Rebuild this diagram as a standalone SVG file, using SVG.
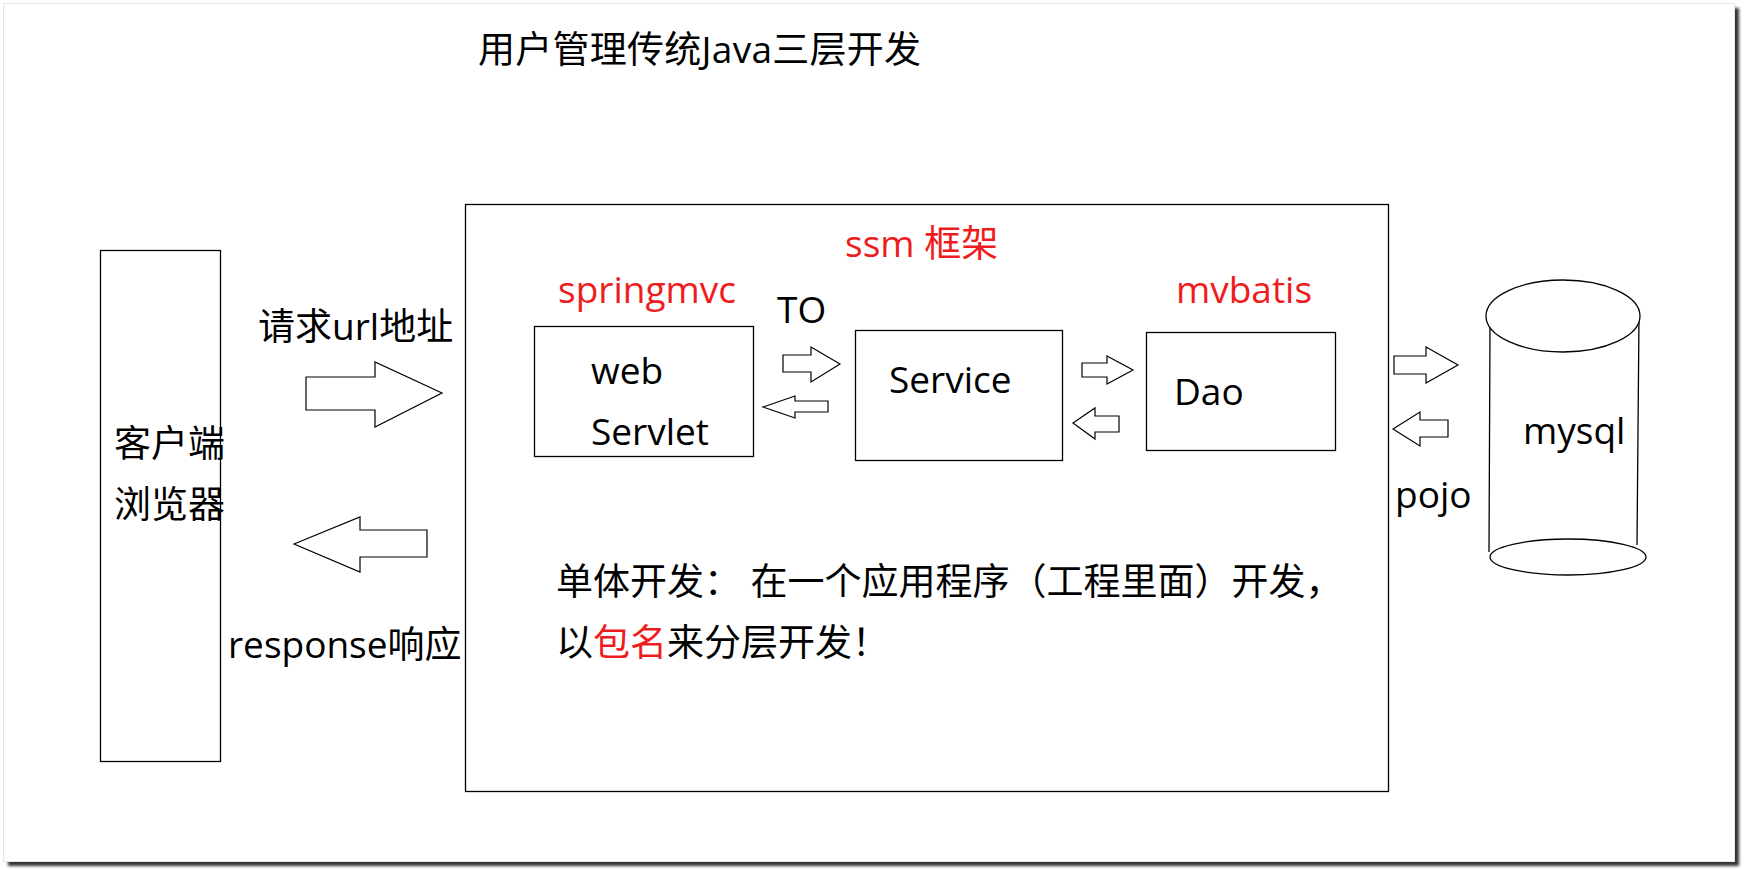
<svg xmlns="http://www.w3.org/2000/svg" width="1744" height="870" viewBox="0 0 1744 870">
<defs>
<filter id="sh" x="-5%" y="-5%" width="110%" height="110%"><feGaussianBlur stdDeviation="1.5"/></filter>
</defs>
<style>
.t{font-family:"Open Sans","Noto Sans CJK SC",sans-serif;font-size:37px;fill:#000}
.r{fill:#ee1c1c}
.box{fill:#fff;stroke:#000;stroke-width:1.3}
.ar{fill:#fff;stroke:#000;stroke-width:1.2;stroke-linejoin:miter}
</style>
<rect x="0" y="0" width="1744" height="870" fill="#fff"/>
<rect x="8" y="8" width="1731" height="858" fill="#333" filter="url(#sh)"/>
<rect x="3.5" y="3.5" width="1731" height="858" fill="#fff" stroke="#e6e6e6" stroke-width="1"/>
<text class="t" x="478" y="63" textLength="443">用户管理传统Java三层开发</text>
<g id="client">
<rect class="box" x="100.5" y="250.5" width="120" height="511"/>
<text class="t" x="114" y="457">客户端</text>
<text class="t" x="114" y="518">浏览器</text>
</g>
<g id="main">
<rect class="box" x="465.5" y="204.5" width="923" height="587" fill="none"/>
<text class="t r" x="845" y="257">ssm 框架</text>
<text class="t r" x="558" y="303">springmvc</text>
<text class="t" x="777" y="323">TO</text>
<text class="t r" x="1176" y="303">mvbatis</text>
<text class="t" x="556" y="595">单体开发： 在一个应用程序（工程里面）开发，</text>
<text class="t" x="556" y="656">以<tspan class="r">包名</tspan>来分层开发！</text>
</g>
<g id="web">
<rect class="box" x="534.5" y="326.5" width="219" height="130"/>
<text class="t" x="591" y="384">web</text>
<text class="t" x="591" y="445">Servlet</text>
</g>
<g id="service">
<rect class="box" x="855.5" y="330.5" width="207" height="130"/>
<text class="t" x="889" y="393">Service</text>
</g>
<g id="dao">
<rect class="box" x="1146.5" y="332.5" width="189" height="118"/>
<text class="t" x="1174" y="405">Dao</text>
</g>
<g id="mysql">
<path class="box" d="M1490,327 L1489,552 M1639,317 L1637,545" fill="none"/>
<ellipse class="box" cx="1563" cy="316" rx="77" ry="36"/>
<ellipse class="box" cx="1568" cy="557" rx="78" ry="18"/>
<text class="t" x="1523" y="444">mysql</text>
</g>
<g id="connectors">
<polygon class="ar" points="306,377 375,377 375,362 442,393 375,427 375,410 306,410"/>
<polygon class="ar" points="294,544 360,517 360,530 427,530 427,557 360,557 360,572"/>
<polygon class="ar" points="783,355 811,355 811,347 840,364 811,382 811,372 783,372"/>
<polygon class="ar" points="763,407 795,396 795,401 828,401 828,412 795,412 795,418"/>
<polygon class="ar" points="1082,363 1107,363 1107,356 1133,370 1107,384 1107,377 1082,377"/>
<polygon class="ar" points="1073,423 1095,408 1095,416 1119,416 1119,432 1095,432 1095,439"/>
<polygon class="ar" points="1394,356 1426,356 1426,347 1458,365 1426,383 1426,374 1394,374"/>
<polygon class="ar" points="1393,429 1420,412 1420,420 1448,420 1448,437 1420,437 1420,446"/>
<text class="t" x="258" y="340">请求url地址</text>
<text class="t" x="228" y="658">response响应</text>
<text class="t" x="1395" y="508">pojo</text>
</g>
</svg>
